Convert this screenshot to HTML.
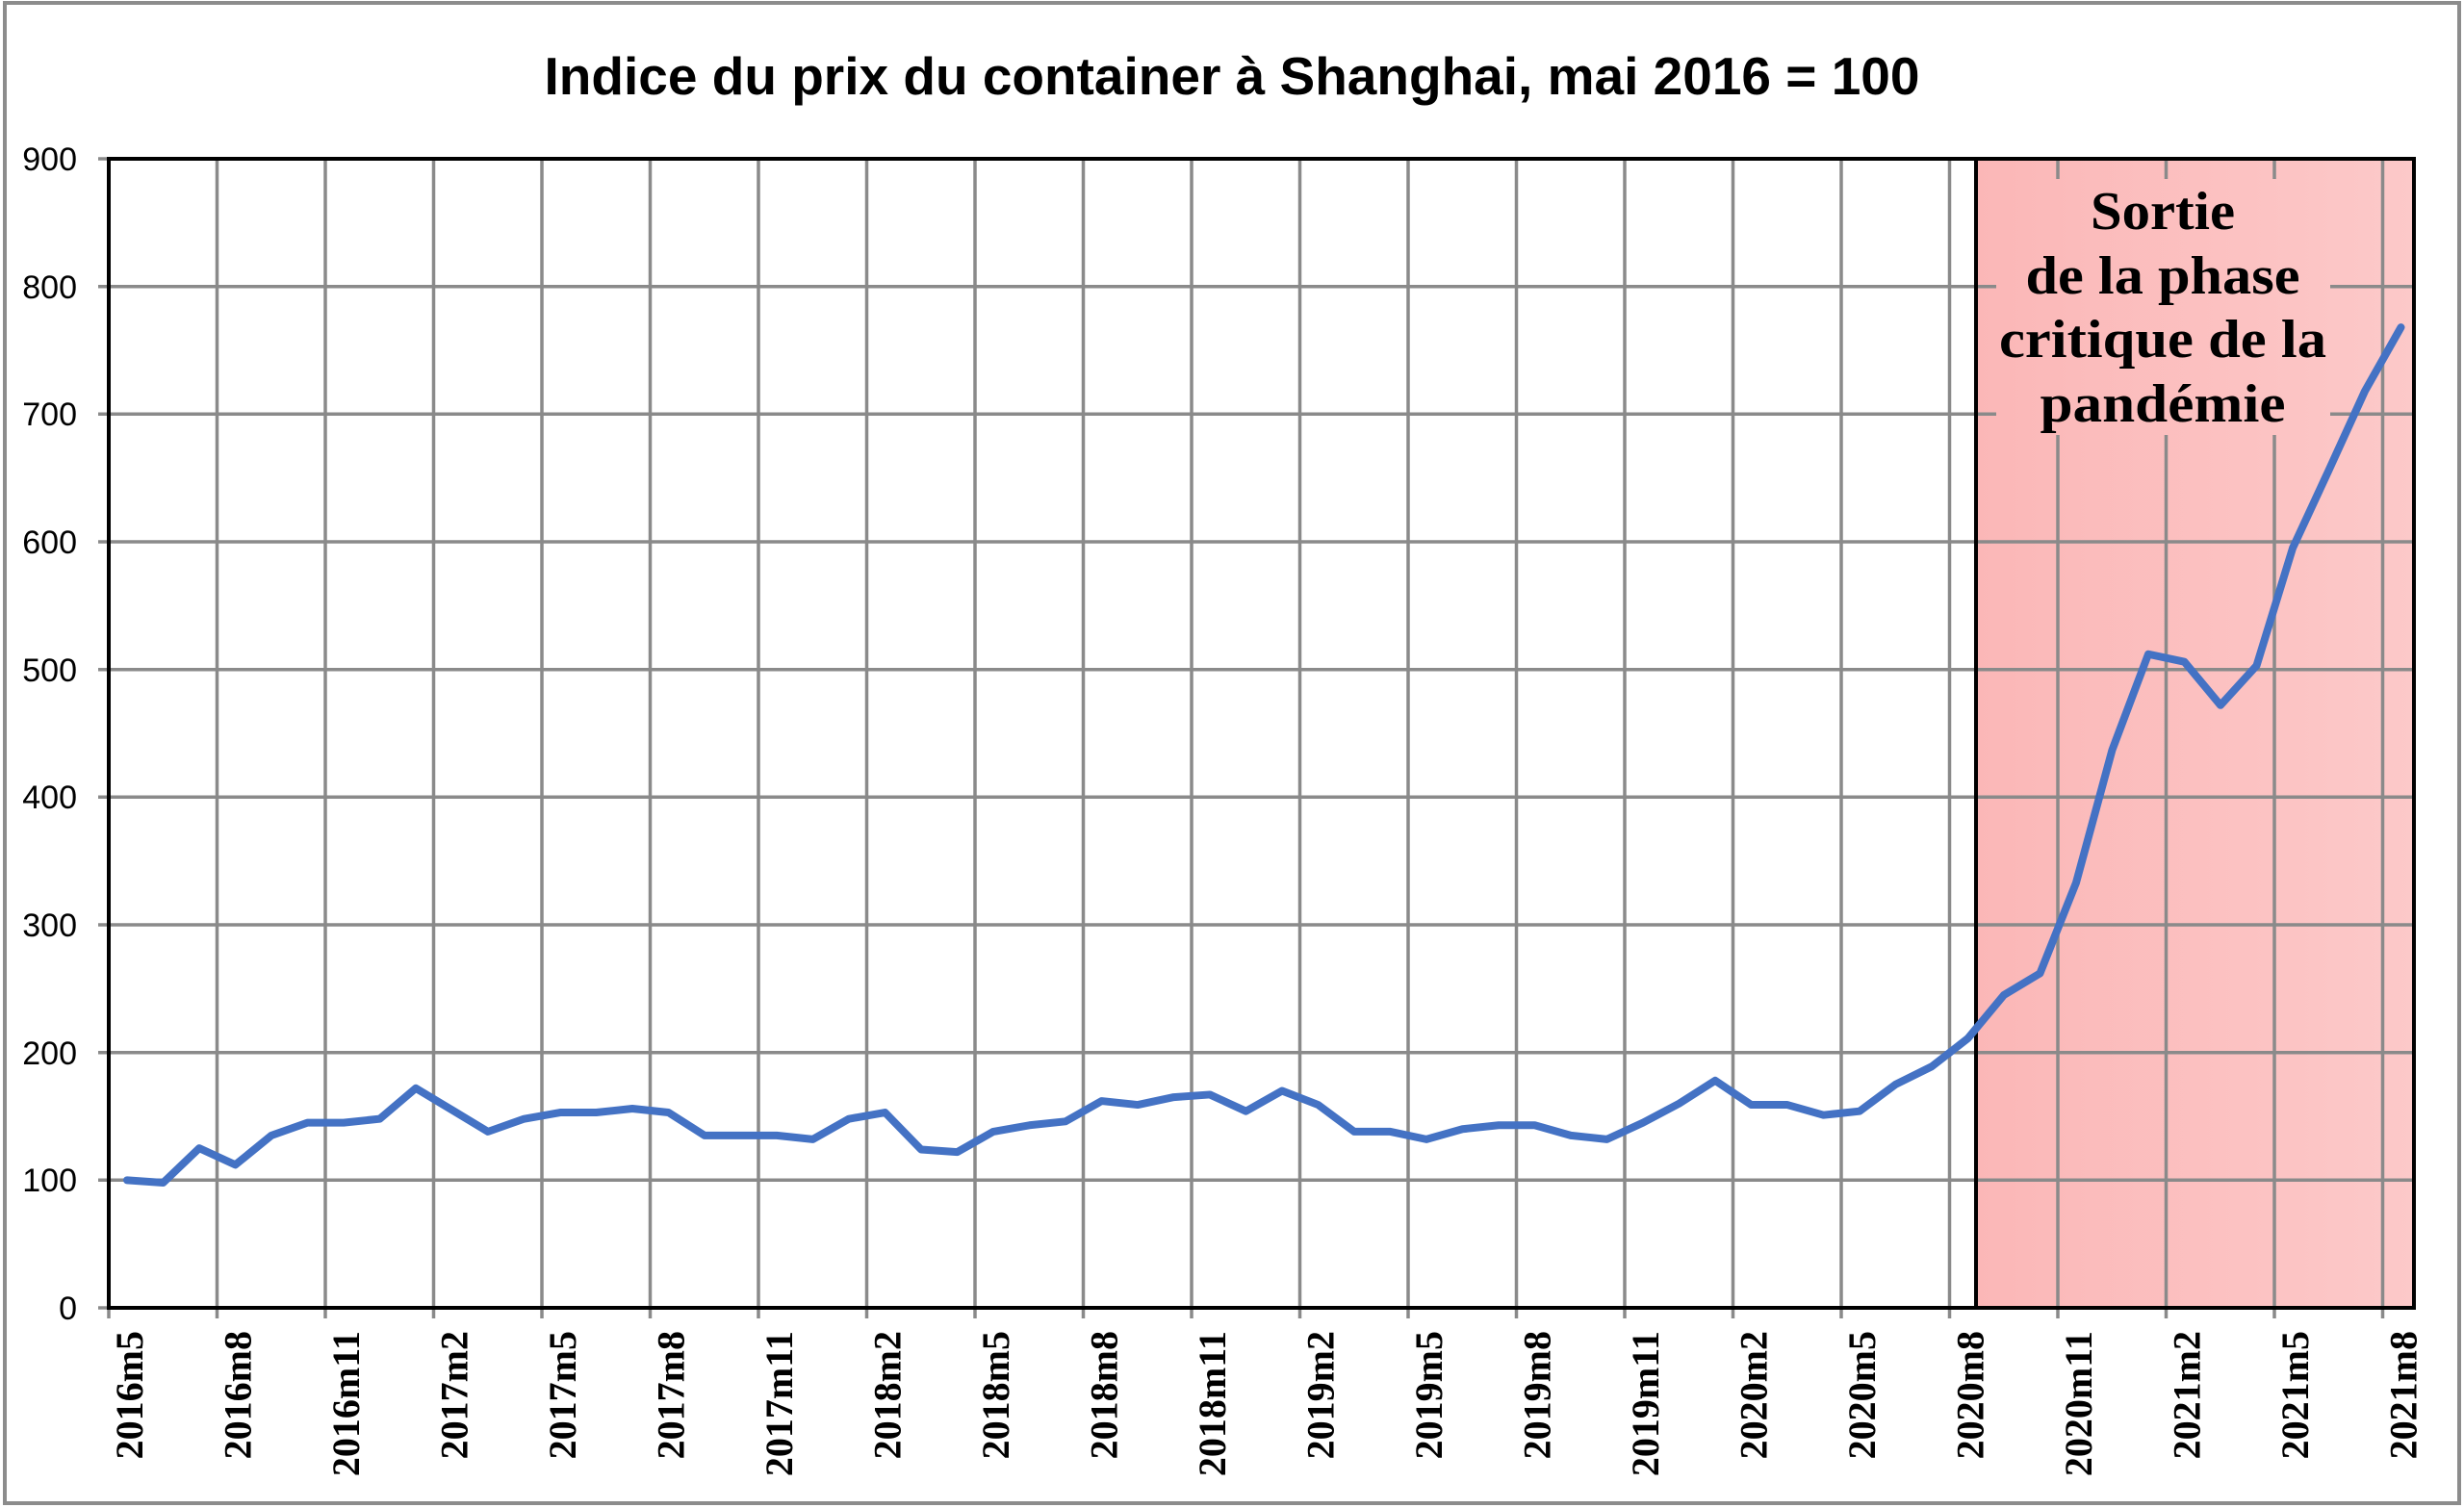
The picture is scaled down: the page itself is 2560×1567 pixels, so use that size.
<!DOCTYPE html>
<html><head><meta charset="utf-8"><style>html,body{margin:0;padding:0;background:#fff}svg{display:block}</style></head>
<body>
<svg width="2560" height="1567" viewBox="0 0 2560 1567" xmlns="http://www.w3.org/2000/svg">
<defs><linearGradient id="pk" gradientUnits="userSpaceOnUse" x1="2053" x2="2508" y1="0" y2="0"><stop offset="0" stop-color="#fbb7b7"/><stop offset="1" stop-color="#fcc9c9"/></linearGradient></defs>
<rect x="0" y="0" width="2560" height="1567" fill="#fff"/>
<rect x="5" y="3" width="2550" height="1559" fill="none" stroke="#8c8c8c" stroke-width="4"/>
<text x="1280" y="98" text-anchor="middle" font-family="Liberation Sans, sans-serif" font-weight="bold" font-size="55">Indice du prix du container à Shanghai, mai 2016 = 100</text>
<rect x="2053" y="165" width="455" height="1194" fill="url(#pk)"/>
<g stroke="#8a8a8a" stroke-width="3.5">
<line x1="102" x2="2508" y1="1226.3" y2="1226.3"/><line x1="102" x2="2508" y1="1093.7" y2="1093.7"/>
<line x1="102" x2="2508" y1="961" y2="961"/><line x1="102" x2="2508" y1="828.3" y2="828.3"/>
<line x1="102" x2="2508" y1="695.7" y2="695.7"/><line x1="102" x2="2508" y1="563" y2="563"/>
<line x1="102" x2="2508" y1="430.3" y2="430.3"/><line x1="102" x2="2508" y1="297.7" y2="297.7"/>
<line x1="102" x2="113" y1="165" y2="165"/><line x1="102" x2="113" y1="1359" y2="1359"/>
<line x1="113" x2="113" y1="165" y2="1370"/><line x1="225.5" x2="225.5" y1="165" y2="1370"/>
<line x1="338" x2="338" y1="165" y2="1370"/><line x1="450.5" x2="450.5" y1="165" y2="1370"/>
<line x1="563" x2="563" y1="165" y2="1370"/><line x1="675.5" x2="675.5" y1="165" y2="1370"/>
<line x1="788" x2="788" y1="165" y2="1370"/><line x1="900.5" x2="900.5" y1="165" y2="1370"/>
<line x1="1013" x2="1013" y1="165" y2="1370"/><line x1="1125.5" x2="1125.5" y1="165" y2="1370"/>
<line x1="1238" x2="1238" y1="165" y2="1370"/><line x1="1350.5" x2="1350.5" y1="165" y2="1370"/>
<line x1="1463" x2="1463" y1="165" y2="1370"/><line x1="1575.5" x2="1575.5" y1="165" y2="1370"/>
<line x1="1688" x2="1688" y1="165" y2="1370"/><line x1="1800.5" x2="1800.5" y1="165" y2="1370"/>
<line x1="1913" x2="1913" y1="165" y2="1370"/><line x1="2025.5" x2="2025.5" y1="165" y2="1370"/>
<line x1="2138" x2="2138" y1="165" y2="1370"/><line x1="2250.5" x2="2250.5" y1="165" y2="1370"/>
<line x1="2363" x2="2363" y1="165" y2="1370"/><line x1="2475.5" x2="2475.5" y1="165" y2="1370"/>
</g>
<rect x="2074" y="186" width="347" height="266" fill="url(#pk)"/>
<g fill="none" stroke="#000" stroke-width="4">
<rect x="113" y="165" width="2395" height="1194"/>
<line x1="2053" x2="2053" y1="165" y2="1359"/>
</g>
<g font-family="Liberation Sans, sans-serif" font-size="34" text-anchor="end">
<text x="80" y="177">900</text><text x="80" y="310">800</text><text x="80" y="442">700</text>
<text x="80" y="575">600</text><text x="80" y="708">500</text><text x="80" y="840">400</text>
<text x="80" y="973">300</text><text x="80" y="1106">200</text><text x="80" y="1238">100</text>
<text x="80" y="1371">0</text>
</g>
<polyline fill="none" stroke="#4472c4" stroke-width="8" stroke-linejoin="round" stroke-linecap="round" vector-effect="non-scaling-stroke" transform="translate(132,1359) scale(37.5,-1.3267)" points="0,100 1,98 2,125 3,112 4,135 5,145 6,145 7,148 8,172 9,155 10,138 11,148 12,153 13,153 14,156 15,153 16,135 17,135 18,135 19,132 20,148 21,153 22,124 23,122 24,138 25,143 26,146 27,162 28,159 29,165 30,167 31,154 32,170 33,159 34,138 35,138 36,132 37,140 38,143 39,143 40,135 41,132 42,145 43,160 44,178 45,159 46,159 47,151 48,154 49,175 50,189 51,211 52,245 53,262 54,333 55,437 56,512 57,506 58,472 59,503 60,595 61,656 62,718 63,768"/>
<g font-family="Liberation Serif, serif" font-weight="bold" font-size="56" text-anchor="middle">
<text x="2247" y="238" textLength="150" lengthAdjust="spacingAndGlyphs">Sortie</text>
<text x="2247" y="305" textLength="285" lengthAdjust="spacingAndGlyphs">de la phase</text>
<text x="2247" y="371" textLength="340" lengthAdjust="spacingAndGlyphs">critique de la</text>
<text x="2247" y="438" textLength="255" lengthAdjust="spacingAndGlyphs">pandémie</text>
</g>
<g font-family="Liberation Serif, serif" font-weight="bold" font-size="40" text-anchor="end">
<text transform="translate(148,1383) rotate(-90)">2016m5</text>
<text transform="translate(260.5,1383) rotate(-90)">2016m8</text>
<text transform="translate(373,1383) rotate(-90)">2016m11</text>
<text transform="translate(485.5,1383) rotate(-90)">2017m2</text>
<text transform="translate(598,1383) rotate(-90)">2017m5</text>
<text transform="translate(710.5,1383) rotate(-90)">2017m8</text>
<text transform="translate(823,1383) rotate(-90)">2017m11</text>
<text transform="translate(935.5,1383) rotate(-90)">2018m2</text>
<text transform="translate(1048,1383) rotate(-90)">2018m5</text>
<text transform="translate(1160.5,1383) rotate(-90)">2018m8</text>
<text transform="translate(1273,1383) rotate(-90)">2018m11</text>
<text transform="translate(1385.5,1383) rotate(-90)">2019m2</text>
<text transform="translate(1498,1383) rotate(-90)">2019m5</text>
<text transform="translate(1610.5,1383) rotate(-90)">2019m8</text>
<text transform="translate(1723,1383) rotate(-90)">2019m11</text>
<text transform="translate(1835.5,1383) rotate(-90)">2020m2</text>
<text transform="translate(1948,1383) rotate(-90)">2020m5</text>
<text transform="translate(2060.5,1383) rotate(-90)">2020m8</text>
<text transform="translate(2173,1383) rotate(-90)">2020m11</text>
<text transform="translate(2285.5,1383) rotate(-90)">2021m2</text>
<text transform="translate(2398,1383) rotate(-90)">2021m5</text>
<text transform="translate(2510.5,1383) rotate(-90)">2021m8</text>
</g>
</svg>
</body></html>
